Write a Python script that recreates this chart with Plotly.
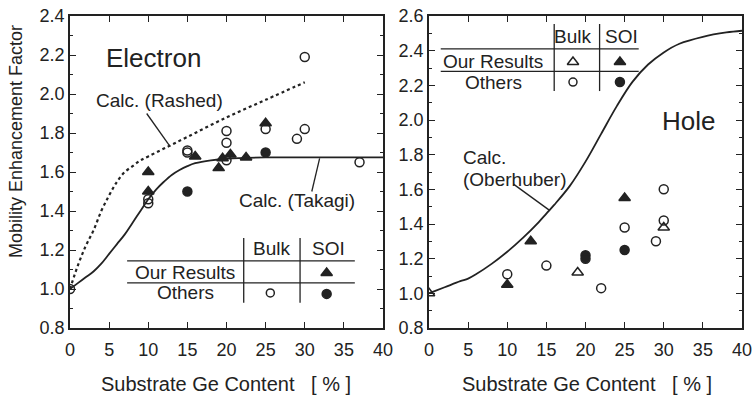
import plotly.graph_objects as go

# ---------------- data ----------------
# Electron panel
e_others_bulk_x = [0, 10, 10, 15, 15, 20, 20, 20, 25, 29, 30, 30, 37]
e_others_bulk_y = [1.0, 1.46, 1.44, 1.71, 1.70, 1.81, 1.75, 1.66, 1.82, 1.77, 1.82, 2.19, 1.65]
e_others_soi_x = [15, 25]
e_others_soi_y = [1.50, 1.70]
e_our_soi_x = [10, 10, 16, 19, 19.5, 20.5, 22.5, 25]
e_our_soi_y = [1.60, 1.50, 1.68, 1.62, 1.67, 1.69, 1.675, 1.85]

takagi_x = [0, 1, 2, 3, 4, 5, 6, 7, 8, 9, 10, 11, 12, 13, 14, 15, 16, 18, 20, 25, 30, 40]
takagi_y = [1.0, 1.03, 1.06, 1.09, 1.13, 1.18, 1.23, 1.28, 1.34, 1.40, 1.46, 1.51, 1.55, 1.585, 1.61, 1.63, 1.645, 1.66, 1.668, 1.675, 1.675, 1.675]

rashed_x = [0, 1, 2, 3, 4, 5, 6, 7, 8, 9, 10, 12, 15, 20, 25, 30]
rashed_y = [1.0, 1.12, 1.22, 1.30, 1.40, 1.48, 1.55, 1.60, 1.63, 1.66, 1.68, 1.72, 1.78, 1.88, 1.97, 2.06]

# Hole panel
h_our_bulk_x = [0, 19, 30]
h_our_bulk_y = [1.0, 1.12, 1.38]
h_our_soi_x = [10, 13, 25]
h_our_soi_y = [1.05, 1.30, 1.55]
h_others_bulk_x = [10, 15, 22, 25, 29, 30, 30]
h_others_bulk_y = [1.11, 1.16, 1.03, 1.38, 1.30, 1.42, 1.60]
h_others_soi_x = [20, 20, 25]
h_others_soi_y = [1.22, 1.20, 1.25]

oberhuber_x = [0, 2, 4, 5, 6, 8, 10, 12, 14, 15, 16, 18, 20, 22, 24, 26, 28, 30, 32, 35, 38, 40]
oberhuber_y = [1.0, 1.035, 1.07, 1.085, 1.11, 1.17, 1.24, 1.32, 1.41, 1.46, 1.51, 1.62, 1.76, 1.92, 2.08, 2.22, 2.32, 2.39, 2.44, 2.48, 2.505, 2.515]

x_ticks = [0, 5, 10, 15, 20, 25, 30, 35, 40]
e_y_ticks = [0.8, 1.0, 1.2, 1.4, 1.6, 1.8, 2.0, 2.2, 2.4]
h_y_ticks = [0.8, 1.0, 1.2, 1.4, 1.6, 1.8, 2.0, 2.2, 2.4, 2.6]

# ---------------- layout helpers ----------------
W, H = 753, 396
INK = "#222222"
FONT = "Liberation Sans, Arial, sans-serif"

def px(x):
    return x / W

def py(y):
    return (H - y) / H

fig = go.Figure()

def add_scatter(x, y, symbol, xa, ya, size=9):
    fig.add_trace(go.Scatter(
        x=x, y=y, mode="markers", xaxis=xa, yaxis=ya, showlegend=False,
        marker=dict(symbol=symbol, size=size, color=INK,
                    line=dict(color=INK, width=1.5)),
        hoverinfo="skip"))

def add_line(x, y, xa, ya, dash="solid", width=1.8):
    fig.add_trace(go.Scatter(
        x=x, y=y, mode="lines", xaxis=xa, yaxis=ya, showlegend=False,
        line=dict(color=INK, width=width, dash=dash, shape="spline"),
        hoverinfo="skip"))

# Electron panel
add_line(rashed_x, rashed_y, "x", "y", dash="dot", width=2.2)
add_line(takagi_x, takagi_y, "x", "y")
add_scatter(e_others_bulk_x, e_others_bulk_y, "circle-open", "x", "y")
add_scatter(e_others_soi_x, e_others_soi_y, "circle", "x", "y", size=9)
add_scatter(e_our_soi_x, e_our_soi_y, "triangle-up", "x", "y", size=10)

# Hole panel
add_line(oberhuber_x, oberhuber_y, "x2", "y2")
add_scatter(h_others_bulk_x, h_others_bulk_y, "circle-open", "x2", "y2")
add_scatter(h_others_soi_x, h_others_soi_y, "circle", "x2", "y2", size=9)
add_scatter(h_our_soi_x, h_our_soi_y, "triangle-up", "x2", "y2", size=10)
add_scatter(h_our_bulk_x, h_our_bulk_y, "triangle-up-open", "x2", "y2", size=10)

# legend-table symbols
add_scatter([32.8], [1.082], "triangle-up", "x", "y", size=10)
add_scatter([25.6], [0.98], "circle-open", "x", "y", size=8)
add_scatter([32.8], [0.975], "circle", "x", "y", size=9)
add_scatter([18.4], [2.335], "triangle-up-open", "x2", "y2", size=10)
add_scatter([24.4], [2.335], "triangle-up", "x2", "y2", size=10)
add_scatter([18.4], [2.219], "circle-open", "x2", "y2", size=8)
add_scatter([24.4], [2.219], "circle", "x2", "y2", size=9)

axis_common = dict(
    showline=True, linecolor=INK, linewidth=1.8, mirror="allticks",
    ticks="inside", ticklen=6, tickwidth=1.3, tickcolor=INK,
    showgrid=False, zeroline=False, automargin=False,
    tickfont=dict(family=FONT, size=18, color=INK),
)

xdom1 = [px(70), px(383)]
xdom2 = [px(429), px(742)]
ydom = [py(328), py(16)]

fig.update_layout(
    width=W, height=H, margin=dict(l=0, r=0, t=0, b=0, autoexpand=False),
    paper_bgcolor="white", plot_bgcolor="white",
    font=dict(family=FONT, color=INK),
    xaxis=dict(domain=xdom1, range=[0, 40], tickvals=x_ticks, anchor="y",
               ticklabelstandoff=4, **axis_common),
    yaxis=dict(domain=ydom, range=[0.8, 2.4], tickvals=e_y_ticks, tickformat=".1f",
               anchor="x", minor=dict(dtick=0.1, ticks="inside", ticklen=3.5, tickcolor=INK),
               **axis_common),
    xaxis2=dict(domain=xdom2, range=[0, 40], tickvals=x_ticks, anchor="y2",
                ticklabelstandoff=4, **axis_common),
    yaxis2=dict(domain=ydom, range=[0.8, 2.6], tickvals=h_y_ticks, tickformat=".1f",
                anchor="x2", minor=dict(dtick=0.1, ticks="inside", ticklen=3.5, tickcolor=INK),
                **axis_common),
)

shapes = []
def seg(x0, y0, x1, y1, xa, ya, w=1.3):
    shapes.append(dict(type="line", x0=x0, y0=y0, x1=x1, y1=y1, xref=xa, yref=ya,
                       line=dict(color=INK, width=w)))

# leader lines
seg(9.8, 1.90, 12.8, 1.73, "x", "y")
seg(31.9, 1.67, 30.9, 1.50, "x", "y")
seg(10.8, 1.63, 15.45, 1.477, "x2", "y2")

# left table
seg(7.3, 1.144, 36.4, 1.144, "x", "y")
seg(7.3, 1.031, 36.4, 1.031, "x", "y")
seg(22.2, 1.262, 22.2, 0.93, "x", "y")
seg(29.4, 1.262, 29.4, 0.93, "x", "y")
# right table
seg(1.5, 2.41, 26.8, 2.41, "x2", "y2")
seg(1.5, 2.281, 26.8, 2.281, "x2", "y2")
seg(16.0, 2.554, 16.0, 2.167, "x2", "y2")
seg(21.8, 2.554, 21.8, 2.167, "x2", "y2")
fig.update_layout(shapes=shapes)

ann = []
def text(t, x, y, xa, ya, size=19, xanchor="center", align="center"):
    ann.append(dict(text=t, x=x, y=y, xref=xa, yref=ya, showarrow=False,
                    xanchor=xanchor, yanchor="middle", align=align, borderpad=0,
                    font=dict(family=FONT, size=size, color=INK)))

text("Electron", 10.7, 2.185, "x", "y", size=26)
text("Calc. (Rashed)", 11.4, 1.965, "x", "y")
text("Calc. (Takagi)", 29.0, 1.455, "x", "y")
text("Bulk", 25.7, 1.21, "x", "y")
text("SOI", 33.0, 1.21, "x", "y")
text("Our Results", 14.7, 1.085, "x", "y")
text("Others", 14.7, 0.98, "x", "y")

text("Hole", 33.1, 1.994, "x2", "y2", size=26)
text("Calc.", 4.2, 1.785, "x2", "y2", xanchor="left", align="left")
text("(Oberhuber)", 4.2, 1.655, "x2", "y2", xanchor="left", align="left")
text("Bulk", 18.4, 2.479, "x2", "y2")
text("SOI", 24.6, 2.479, "x2", "y2")
text("Our Results", 8.2, 2.34, "x2", "y2")
text("Others", 8.2, 2.219, "x2", "y2")

# axis titles
text("Substrate Ge Content   [ % ]", px(226), py(384), "paper", "paper", size=20)
text("Substrate Ge Content   [ % ]", px(587), py(384), "paper", "paper", size=20)
ann.append(dict(text="Mobility Enhancement Factor", x=px(16), y=py(142), xref="paper", yref="paper",
                showarrow=False, textangle=-90, xanchor="center", yanchor="middle",
                font=dict(family=FONT, size=18, color=INK)))
fig.update_layout(annotations=ann)

# remove the default page margin so the figure sits at the window origin
fig.write_html("out.html", config={"displayModeBar": False},
               post_script="document.body.style.margin='0px';")
